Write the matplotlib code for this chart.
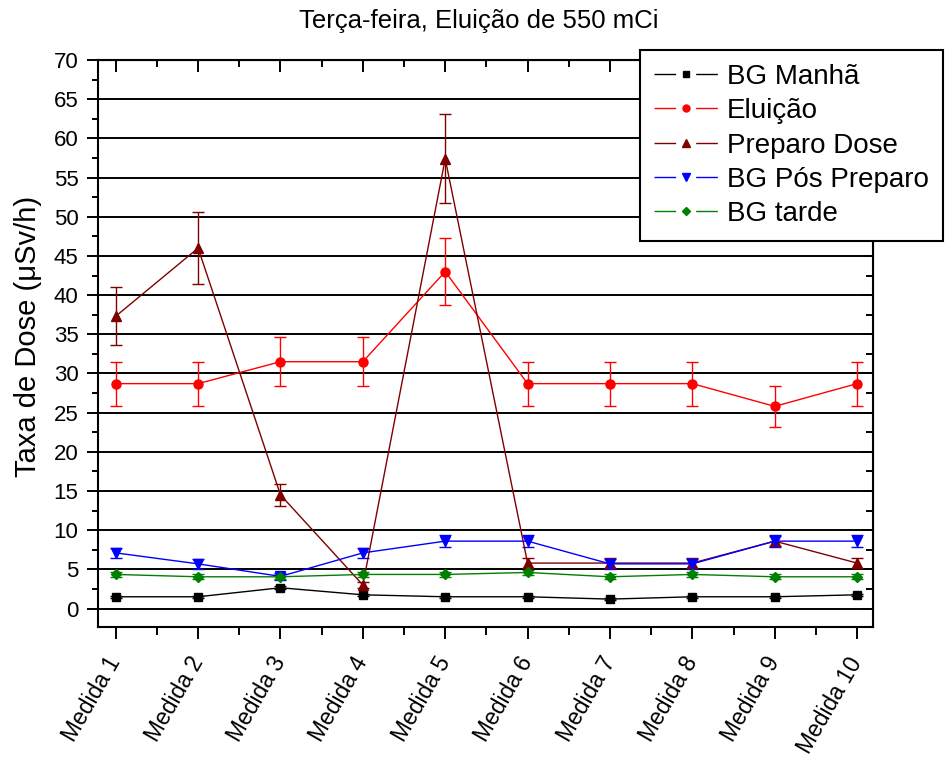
import matplotlib
matplotlib.use('Agg')
import matplotlib.pyplot as plt
from matplotlib.lines import Line2D
from matplotlib.ticker import MultipleLocator

plt.rcParams['font.family'] = ['Liberation Sans', 'DejaVu Sans']

labels = ['Medida %d' % i for i in range(1, 11)]
x = list(range(1, 11))

bg_manha = [1.5, 1.5, 2.65, 1.75, 1.5, 1.5, 1.2, 1.5, 1.5, 1.75]
bg_manha_err = [0.15, 0.15, 0.2, 0.15, 0.15, 0.15, 0.15, 0.15, 0.15, 0.15]

eluicao = [28.7, 28.7, 31.5, 31.5, 43.0, 28.7, 28.7, 28.7, 25.8, 28.7]
eluicao_err = [2.8, 2.8, 3.1, 3.1, 4.3, 2.8, 2.8, 2.8, 2.6, 2.8]

preparo = [37.3, 46.0, 14.5, 3.0, 57.4, 5.8, 5.8, 5.8, 8.6, 5.8]
preparo_err = [3.7, 4.6, 1.4, 0.4, 5.7, 0.6, 0.6, 0.6, 0.6, 0.6]

bg_pos = [7.1, 5.7, 4.1, 7.1, 8.6, 8.6, 5.7, 5.7, 8.6, 8.6]
bg_pos_err = [0.65, 0.6, 0.45, 0.65, 0.8, 0.8, 0.6, 0.6, 0.8, 0.8]

bg_tarde = [4.35, 4.05, 4.05, 4.35, 4.35, 4.6, 4.05, 4.35, 4.05, 4.05]
bg_tarde_err = [0.3, 0.3, 0.3, 0.3, 0.3, 0.3, 0.3, 0.3, 0.3, 0.3]

series = [
    ('BG Manhã', bg_manha, bg_manha_err, 'black', 's', 5.5),
    ('Eluição', eluicao, eluicao_err, '#ff0000', 'o', 6.5),
    ('Preparo Dose', preparo, preparo_err, '#800000', '^', 7),
    ('BG Pós Preparo', bg_pos, bg_pos_err, '#0000ff', 'v', 7),
    ('BG tarde', bg_tarde, bg_tarde_err, '#008000', 'D', 5.5),
]

fig = plt.figure(figsize=(9.48, 7.57), dpi=100)
ax = fig.add_axes([0.1034, 0.1713, 0.8172, 0.7494])

for v in range(0, 75, 5):
    ax.axhline(v, color='black', lw=1.4, zorder=1)

handles = []
for name, y, err, c, m, ms in series:
    ax.errorbar(x, y, yerr=err, color=c, marker=m, ms=ms, lw=1.0,
                elinewidth=1.0, capsize=4.3, capthick=1.0, zorder=3)
    handles.append(Line2D([], [], color=c, lw=1.0, ls=(0, (15.6, 14.4)),
                          marker=m, ms=ms - 1.5, label=name))

ax.set_xlim(0.785, 10.19)
ax.set_ylim(-2.4, 70)
ax.set_xticks(x)
ax.set_xticklabels(labels, rotation=60, ha='right', va='center',
                   rotation_mode='anchor', fontsize=16.5)
ax.xaxis.set_minor_locator(MultipleLocator(0.5))
ax.yaxis.set_major_locator(MultipleLocator(5))
ax.yaxis.set_minor_locator(MultipleLocator(2.5))
ax.tick_params(axis='y', which='major', direction='out', length=8, width=1.4,
               labelsize=16, pad=6)
ax.tick_params(axis='y', which='minor', direction='out', length=4.3, width=1.4)
ax.tick_params(axis='x', which='major', direction='out', length=8.6, width=1.4,
               pad=14)
ax.tick_params(axis='x', which='minor', direction='out', length=5.7, width=1.4)
for s in ax.spines.values():
    s.set_linewidth(1.5)

top = ax.secondary_xaxis('top')
top.set_xticks(x)
top.xaxis.set_minor_locator(MultipleLocator(0.5))
top.tick_params(which='major', direction='in', length=8.6, width=1.4, labeltop=False)
top.tick_params(which='minor', direction='in', length=5, width=1.4)
right = ax.secondary_yaxis('right')
right.yaxis.set_major_locator(MultipleLocator(5))
right.yaxis.set_minor_locator(MultipleLocator(2.5))
right.tick_params(which='major', direction='in', length=8, width=1.4, labelright=False)
right.tick_params(which='minor', direction='in', length=5, width=1.4)

fig.text(0.0295, 0.556, 'Taxa de Dose (μSv/h)', rotation=90, ha='center',
         va='center', fontsize=21)
fig.text(0.505, 0.972, 'Terça-feira, Eluição de 550 mCi', ha='center', va='center',
         fontsize=18.5)

leg = fig.legend(handles=handles, loc='upper left', bbox_to_anchor=(0.675, 0.934),
                 bbox_transform=fig.transFigure, fontsize=20, frameon=True,
                 fancybox=False, edgecolor='black', framealpha=1,
                 handlelength=2.34, handletextpad=0.3, labelspacing=0.3,
                 borderpad=0.5, borderaxespad=0)
leg.get_frame().set_linewidth(1.5)
leg.set_zorder(10)

fig.savefig('out.png', dpi=100)
